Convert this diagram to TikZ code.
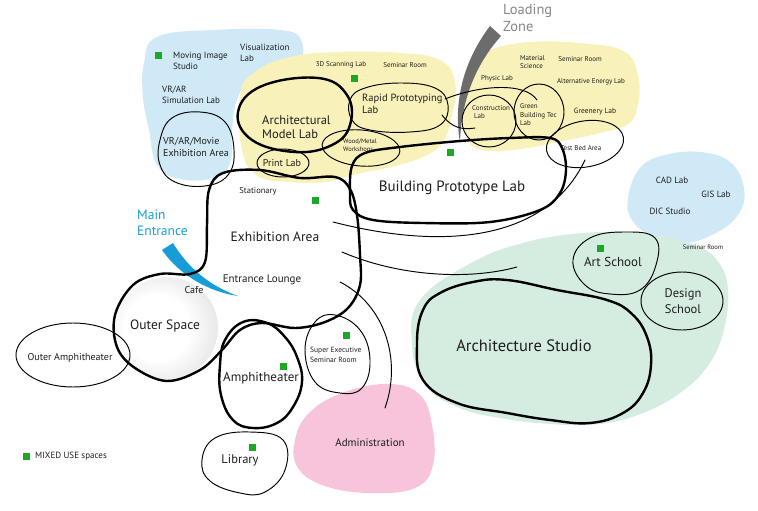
\documentclass[tikz,border=0pt]{standalone}
\usepackage{fontspec}
\setmainfont{PT Sans}
\definecolor{bluefill}{RGB}{207,233,247}
\definecolor{yelfill}{RGB}{249,241,186}
\definecolor{grnfill}{RGB}{213,237,224}
\definecolor{pinkfill}{RGB}{247,196,219}
\definecolor{sq}{RGB}{28,168,36}
\definecolor{arrowgray}{RGB}{108,108,108}
\definecolor{lzgray}{RGB}{135,135,135}
\definecolor{entblue}{RGB}{24,156,216}
\definecolor{txt}{RGB}{30,30,30}
\newcommand{\fsz}[2]{\fontsize{#1}{#2}\selectfont}
\pgfdeclareradialshading{osshade}{\pgfpoint{-7bp}{0bp}}{color(0bp)=(white); color(16bp)=(white); color(50bp)=(black!24); color(60bp)=(black!26)}
\tikzset{
  lbl/.style={inner sep=0pt, text=txt, align=left},
  thickloop/.style={draw=black, line width=2.4pt, line join=round, line cap=round},
  thinloop/.style={draw=black, line width=0.95pt, line join=round, line cap=round},
  mixsq/.style={fill=sq, draw=none, minimum size=7pt, inner sep=0pt, rectangle}
}
\begin{document}
\begin{tikzpicture}[x=1pt,y=-1pt]
\useasboundingbox (0,0) rectangle (758,511);
\fill[white] (0,0) rectangle (758,511);
% ---- colour fields
\fill[bluefill] plot[smooth cycle, tension=0.7] coordinates {(157,37) (213,30) (280,30) (301,40) (297,63) (257,73) (238,97) (232,130) (230,163) (213,178) (180,179) (157,165) (149,130) (143,97) (144,63)};
\fill[yelfill] plot[smooth cycle, tension=0.7] coordinates {(240,95) (255,72) (290,57) (340,52) (400,53) (440,60) (455,82) (452,115) (443,142) (425,156) (395,166) (357,174) (325,182) (290,182) (258,176) (242,150)};
\fill[yelfill] plot[smooth cycle, tension=0.7] coordinates {(466,70) (485,52) (530,42) (590,44) (625,52) (638,75) (638,105) (628,124) (600,133) (563,141) (520,149) (482,150) (466,136) (462,100)};
\fill[bluefill] plot[smooth cycle, tension=0.7] coordinates {(628,198) (640,168) (665,155) (700,152) (730,162) (744,188) (738,215) (712,235) (682,243) (652,236) (632,220)};
\fill[grnfill] plot[smooth cycle, tension=0.7] coordinates {(420,300) (473,262) (523,243) (573,234) (623,232) (660,236) (692,244) (717,260) (728,290) (723,333) (707,367) (680,393) (643,413) (600,424) (550,424) (500,418) (457,407) (425,385) (412,345)};
\fill[pinkfill] plot[smooth cycle, tension=0.7] coordinates {(390,384) (420,395) (432,425) (433,465) (415,488) (370,493) (325,486) (298,468) (295,440) (310,412) (345,392)};
\shade[shading=osshade] (167,328) circle (51);
% ---- loading zone arrow and main entrance wedge
\fill[arrowgray] (490,26) .. controls (468,55) and (452,95) .. (460,143) .. controls (461,100) and (476,64) .. (501,36) -- cycle;
\fill[entblue] (173,243) .. controls (188,268) and (210,286) .. (238,296) .. controls (210,292) and (180,276) .. (162,250) -- cycle;
% ---- thin loops
\draw[thinloop] plot[smooth cycle, tension=0.7] coordinates {(160,140) (172,118) (200,112) (225,122) (234,150) (228,175) (205,186) (175,182) (160,165)};
\draw[thinloop] plot[smooth cycle, tension=0.7] coordinates {(350,100) (365,88) (400,83) (435,88) (448,105) (440,125) (410,132) (370,130) (352,120)};
\draw[thinloop, rotate around={-5:(361,148)}] (361,148) ellipse (39 and 18);
\draw[thinloop] (283,163) ellipse (26 and 14);
\draw[thinloop] (489,121) ellipse (27 and 26);
\draw[thinloop] (539,112) ellipse (25 and 28);
\draw[thinloop, rotate around={10:(585,144)}] (585,144) ellipse (39 and 23);
\draw[thinloop] plot[smooth cycle, tension=0.7] coordinates {(305,350) (315,322) (335,315) (360,330) (370,360) (362,388) (340,393) (315,382)};
\draw[thinloop] (73,355) ellipse (57 and 32);
\draw[thinloop] plot[smooth cycle, tension=0.7] coordinates {(202,460) (215,438) (250,432) (283,440) (285,470) (265,492) (240,493) (210,481)};
\draw[thinloop] plot[smooth cycle, tension=0.7] coordinates {(573,260) (590,238) (625,232) (655,238) (656,265) (640,290) (610,294) (585,285)};
\draw[thinloop] (682,301) ellipse (41 and 29);
% ---- thin connecting strokes
\draw[thinloop] (445,99) .. controls (480,85) and (525,82) .. (537,100);
\draw[thinloop] (442,115) .. controls (452,128) and (462,130) .. (475,128);
\draw[thinloop] (333,222) .. controls (450,252) and (548,238) .. (585,160);
\draw[thinloop] (342,252) .. controls (400,277) and (470,280) .. (517,267);
\draw[thinloop] (340,282) .. controls (385,305) and (402,360) .. (385,408);
% ---- thick loops
\draw[thickloop] plot[smooth cycle, tension=0.7] coordinates {(238,112) (262,86) (318,78) (347,95) (350,125) (332,145) (295,152) (252,140)};
\draw[thickloop] plot[smooth cycle, tension=0.6] coordinates {(350,193) (352,166) (365,153) (400,147) (460,141) (510,138) (550,138) (562,148) (566,170) (560,193) (540,210) (490,222) (423,223) (373,220) (353,210)};
\draw[thickloop] plot[smooth cycle, tension=0.6] coordinates {(223,173) (260,170) (300,178) (335,177) (350,189) (357,215) (360,255) (360,285) (348,308) (325,322) (295,328) (262,323) (240,330) (222,350) (200,370) (167,381) (135,368) (117,347) (115,315) (133,285) (160,274) (190,274) (205,262) (207,225) (209,190)};
\draw[thickloop] plot[smooth cycle, tension=0.7] coordinates {(243,322) (267,323) (285,337) (297,357) (302,382) (293,407) (277,423) (253,428) (233,420) (221,395) (220,365) (225,340)};
\draw[thickloop] plot[smooth cycle, tension=0.7] coordinates {(440,293) (473,282) (507,280) (557,290) (607,300) (632,314) (647,337) (651,365) (643,393) (623,413) (590,423) (550,420) (507,413) (457,403) (423,380) (417,343) (423,310)};
% ---- mixed use squares
\node[mixsq] (m1) at (158,56) {};
\node[mixsq] (m2) at (354,79) {};
\node[mixsq] (m3) at (450,152) {};
\node[mixsq] (m4) at (315,200) {};
\node[mixsq] (m5) at (600,248) {};
\node[mixsq] (m6) at (346,335) {};
\node[mixsq] (m7) at (283,366) {};
\node[mixsq] (m8) at (252,447) {};
\node[mixsq] (m9) at (26,456) {};
% ---- labels
\node[lbl, anchor=west, text=lzgray, font=\fsz{14.5}{17}] (lz) at (503,18) {Loading\\Zone};
\node[lbl, anchor=west, font=\fsz{9}{11}] (mis) at (173,61) {Moving Image\\Studio};
\node[lbl, anchor=west, font=\fsz{9}{11}] (vis) at (240,53) {Visualization\\Lab};
\node[lbl, anchor=west, font=\fsz{9}{11}] (vrs) at (162,95) {VR/AR\\Simulation Lab};
\node[lbl, anchor=west, font=\fsz{10}{12}] (vre) at (163,147) {VR/AR/Movie\\Exhibition Area};
\node[lbl, anchor=west, font=\fsz{12.5}{14.5}] (aml) at (262,127) {Architectural\\Model Lab};
\node[lbl, font=\fsz{7}{8}] (dsl) at (341,65) {3D Scanning Lab};
\node[lbl, font=\fsz{7}{8}] (sr1) at (405,65) {Seminar Room};
\node[lbl, anchor=west, font=\fsz{10.5}{12.5}] (rpl) at (362,104) {Rapid Prototyping\\Lab};
\node[lbl, anchor=west, font=\fsz{6.5}{8}] (wmw) at (343,146) {Wood/Metal\\Workshops};
\node[lbl, font=\fsz{10}{12}] (prl) at (282,163) {Print Lab};
\node[lbl, font=\fsz{8.5}{10}] (sta) at (258,191) {Stationary};
\node[lbl, font=\fsz{15}{18}] (bpl) at (452,188) {Building Prototype Lab};
\node[lbl, font=\fsz{7}{8}] (phl) at (497,79) {Physic Lab};
\node[lbl, anchor=west, font=\fsz{7}{8.5}] (mat) at (520,62) {Material\\Science};
\node[lbl, font=\fsz{7}{8}] (sr2) at (580,59) {Seminar Room};
\node[lbl, font=\fsz{7}{8}] (ael) at (591,82) {Alternative Energy Lab};
\node[lbl, anchor=west, font=\fsz{7}{8.5}] (col) at (472,112) {Construction\\\ Lab};
\node[lbl, anchor=west, font=\fsz{7}{8.5}] (gbl) at (520,115) {Green\\Building Tec\\Lab};
\node[lbl, font=\fsz{7.5}{9}] (grl) at (595,112) {Greenery Lab};
\node[lbl, font=\fsz{7}{8}] (tba) at (581,148) {Test Bed Area};
\node[lbl, font=\fsz{13.5}{16}] (exa) at (275,237) {Exhibition Area};
\node[lbl, font=\fsz{11}{13}] (enl) at (262,280) {Entrance Lounge};
\node[lbl, font=\fsz{10}{12}] (caf) at (194,290) {Cafe};
\node[lbl, anchor=west, text=entblue, font=\fsz{13.5}{16.5}] (men) at (137,223) {Main\\Entrance};
\node[lbl, font=\fsz{13.5}{16}] (osp) at (165,326) {Outer Space};
\node[lbl, font=\fsz{10}{12}] (oam) at (70,358) {Outer Amphitheater};
\node[lbl, font=\fsz{13}{15}] (amp) at (261,378) {Amphitheater};
\node[lbl, anchor=west, font=\fsz{7.5}{9.5}] (ses) at (310,355) {Super Executive\\Seminar Room};
\node[lbl, font=\fsz{12.5}{15}] (lib) at (240,460) {Library};
\node[lbl, font=\fsz{11}{13}] (adm) at (370,443) {Administration};
\node[lbl, anchor=west, font=\fsz{9}{11}] (mix) at (35,456) {MIXED USE spaces};
\node[lbl, font=\fsz{9}{11}] (cad) at (672,180) {CAD Lab};
\node[lbl, font=\fsz{9}{11}] (gis) at (716,194) {GIS Lab};
\node[lbl, font=\fsz{9}{11}] (dic) at (670,211) {DIC Studio};
\node[lbl, font=\fsz{6.5}{8}] (sr3) at (703,247) {Seminar Room};
\node[lbl, font=\fsz{13}{15}] (art) at (613,262) {Art School};
\node[lbl, align=center, font=\fsz{12.5}{16.5}] (des) at (683,301) {Design\\School};
\node[lbl, font=\fsz{16.5}{19}] (ars) at (524,346) {Architecture Studio};
\end{tikzpicture}
\end{document}
